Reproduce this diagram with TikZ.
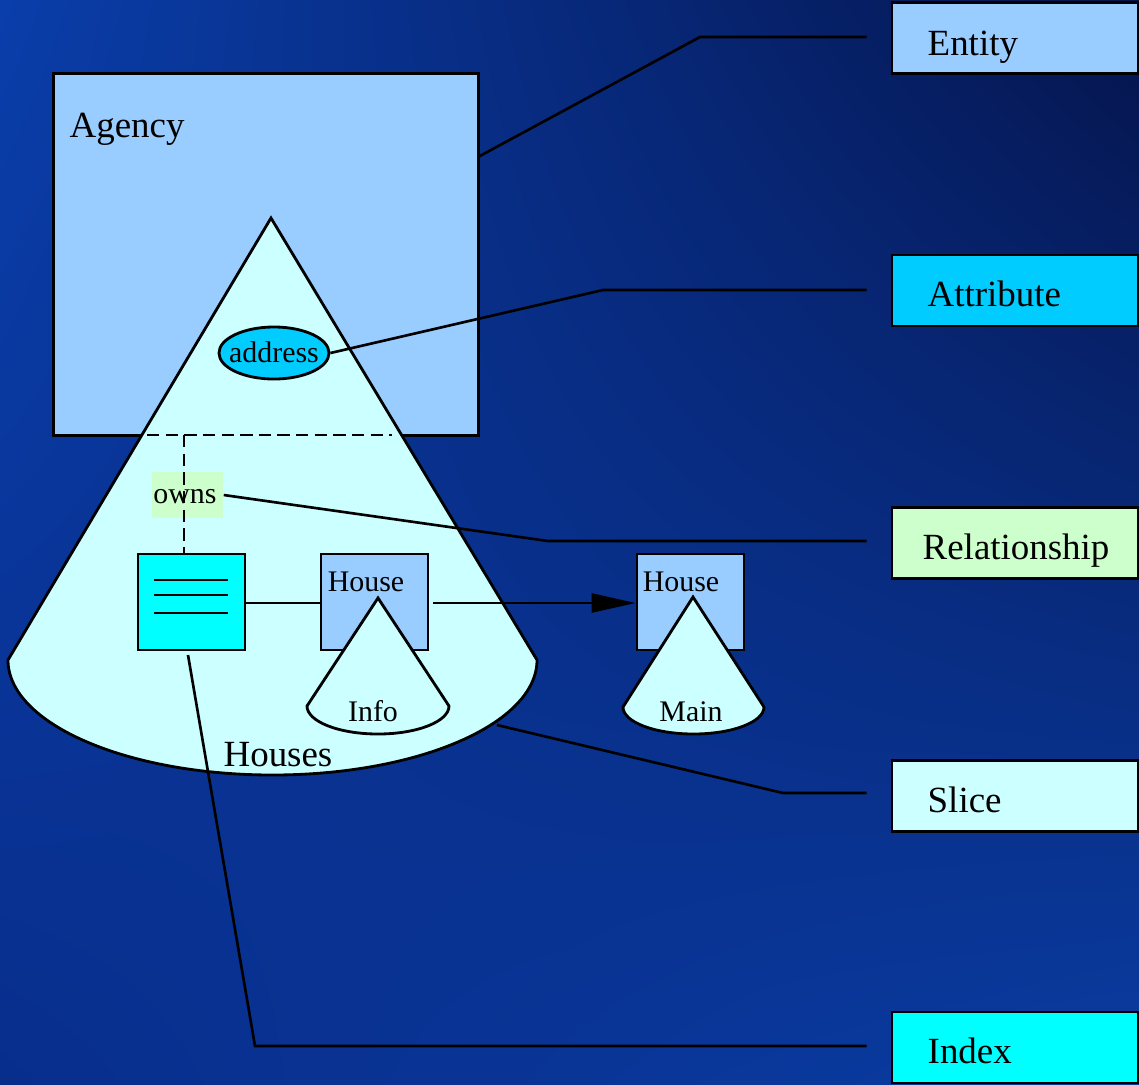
\documentclass[tikz,border=0pt]{standalone}
\usepackage{fontspec}
\setmainfont{Liberation Serif}
\usetikzlibrary{arrows.meta,shapes.geometric,shadings}

\definecolor{entityC}{RGB}{153,204,255}
\definecolor{attrC}{RGB}{0,204,255}
\definecolor{relC}{RGB}{204,255,204}
\definecolor{sliceC}{RGB}{204,255,255}
\definecolor{indexC}{RGB}{0,255,255}
\definecolor{bgTL}{RGB}{10,62,170}
\definecolor{bgTR}{RGB}{5,20,76}
\definecolor{bgBL}{RGB}{8,46,140}
\definecolor{bgBR}{RGB}{10,60,162}

\tikzset{
  outline/.style={draw=black, line width=0.8pt},
  boxnode/.style={outline, rectangle, inner sep=0pt},
  legendbox/.style={boxnode, minimum width=2.46cm, minimum height=0.71cm},
  bigtxt/.style={inner sep=0pt, font=\fontsize{10.5}{12}\selectfont},
  smalltxt/.style={inner sep=0pt, font=\fontsize{8.5}{10}\selectfont},
  leader/.style={draw=black, line width=0.75pt},
  dashline/.style={draw=black, line width=0.8pt, dash pattern=on 3.5pt off 1.8pt},
}

\begin{document}
\begin{tikzpicture}[x=0.01cm, y=-0.01cm]
  % background
  \shade[upper left=bgTL, upper right=bgTR, lower left=bgBL, lower right=bgBR]
    (0,0) rectangle (1139,1084);
  \useasboundingbox (0,0) rectangle (1139,1084);

  % entity: Agency
  \node[boxnode, fill=entityC, minimum width=4.24cm, minimum height=3.61cm] (agency) at (266,254.5) {};
  \node[bigtxt, anchor=base west] (agencylbl) at (69,137) {Agency};

  % slice: Houses cone
  \path[outline, fill=sliceC] (271,218) -- (537,660)
    .. controls (537,723.5) and (418.5,775) .. (272.5,775)
    .. controls (126.5,775) and (8,723.5) .. (8,660) -- cycle;
  \node[bigtxt, anchor=base] (houseslbl) at (278,766) {Houses};
  \coordinate (sliceedge) at (497,725);

  % attribute
  \node[outline, ellipse, fill=attrC, minimum width=1.10cm, minimum height=0.52cm, inner sep=0pt] (address) at (274,353) {};
  \node[smalltxt, anchor=base] (addresslbl) at (274,362) {address};

  % relationship
  \node[rectangle, fill=relC, minimum width=0.71cm, minimum height=0.46cm, inner sep=0pt] (owns) at (187.5,495) {};
  \node[smalltxt, anchor=base] (ownslbl) at (185,503) {owns};

  % index
  \node[boxnode, fill=indexC, minimum width=1.07cm, minimum height=0.96cm] (index) at (191.5,602) {};
  \foreach \yy in {580,595,613}
    \draw[line width=0.8pt] (154,\yy) -- (228,\yy);

  % relationship lines (dashed)
  \coordinate (dashL) at (147,435);
  \coordinate (dashR) at (392,435);
  \coordinate (dashT) at (184,435);
  \draw[dashline] (dashL) -- (dashR);
  \draw[dashline] (dashT) -- (index.north -| dashT);

  % house boxes with their cones
  \node[boxnode, fill=entityC, minimum width=1.07cm, minimum height=0.96cm] (house1) at (374.5,602) {};
  \node[smalltxt, anchor=base] (house1lbl) at (366,591) {House};
  \path[outline, fill=sliceC] (378,598) -- (449,706)
    .. controls (449,721.5) and (417.2,734) .. (378,734)
    .. controls (338.8,734) and (307,721.5) .. (307,706) -- cycle;
  \node[smalltxt, anchor=base] (infolbl) at (373,721) {Info};

  \node[boxnode, fill=entityC, minimum width=1.07cm, minimum height=0.96cm] (house2) at (690.5,602) {};
  \node[smalltxt, anchor=base] (house2lbl) at (681,591) {House};
  \path[outline, fill=sliceC] (693,597) -- (764,707)
    .. controls (764,722) and (732.4,734) .. (693.5,734)
    .. controls (654.6,734) and (623,722) .. (623,707) -- cycle;
  \node[smalltxt, anchor=base] (mainlbl) at (691,721) {Main};

  % connectors between index and houses
  \draw[line width=0.75pt] (index.east |- 0,603) -- (house1.west |- 0,603);
  \draw[line width=0.75pt, -{Triangle[length=12.5pt, width=5.4pt]}, shorten <=0.04cm]
    (house1.east |- 0,603) -- (house2.west |- 0,603);

  % legend boxes
  \node[legendbox, fill=entityC] (entity) at (1015,38) {};
  \node[bigtxt, anchor=base west] (entitylbl) at (927,55) {Entity};
  \node[legendbox, fill=attrC] (attribute) at (1015,290.5) {};
  \node[bigtxt, anchor=base west] (attributelbl) at (927,306) {Attribute};
  \node[legendbox, fill=relC] (relationship) at (1015,543) {};
  \node[bigtxt, anchor=base west] (relationshiplbl) at (922,559) {Relationship};
  \node[legendbox, fill=sliceC] (slice) at (1015,796) {};
  \node[bigtxt, anchor=base west] (slicelbl) at (927,812) {Slice};
  \node[legendbox, fill=indexC] (indexkey) at (1015,1047.5) {};
  \node[bigtxt, anchor=base west] (indexlbl) at (927,1063) {Index};

  % leader lines
  \coordinate (entStart) at (478,157);
  \coordinate (entBend) at (700,37);
  \coordinate (attBend) at (603,290);
  \coordinate (relBend) at (548,541);
  \coordinate (sliBend) at (783,793);
  \coordinate (idxStart) at (188,655);
  \coordinate (idxBend) at (255,1046);
  \draw[leader] (entStart) -- (entBend) -- ([xshift=-0.24cm]entity.west |- entBend);
  \draw[leader] (address.east) -- (attBend) -- ([xshift=-0.24cm]attribute.west |- attBend);
  \draw[leader] (owns.east) -- (relBend) -- ([xshift=-0.24cm]relationship.west |- relBend);
  \draw[leader] (sliceedge) -- (sliBend) -- ([xshift=-0.24cm]slice.west |- sliBend);
  \draw[leader] (idxStart) -- (idxBend) -- ([xshift=-0.24cm]indexkey.west |- idxBend);
\end{tikzpicture}
\end{document}
